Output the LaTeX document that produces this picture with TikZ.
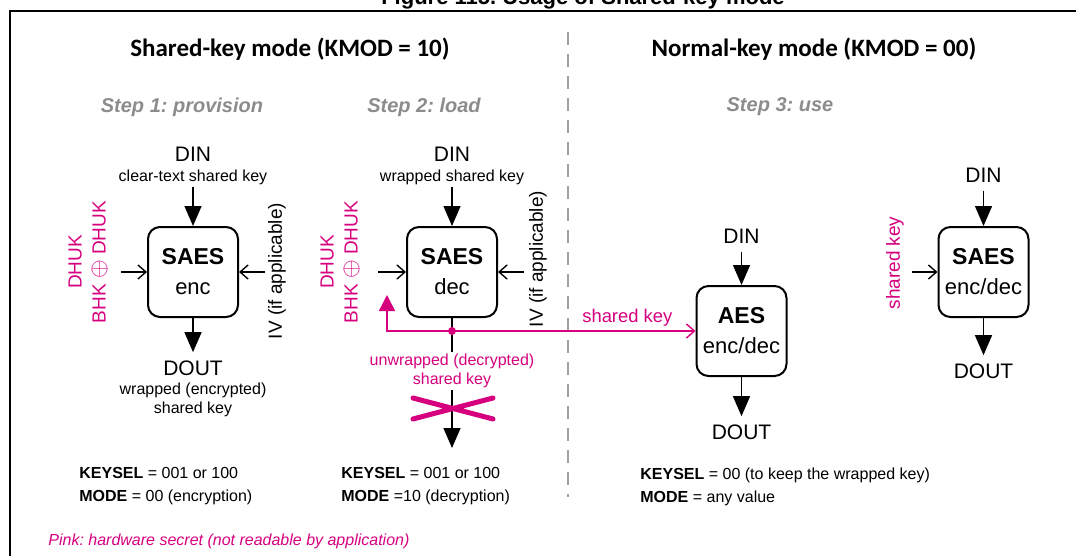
\documentclass[tikz,border=0pt]{standalone}
\usepackage{fontspec}
\setmainfont{Liberation Sans}
\newfontfamily\headfont{Carlito}
\usetikzlibrary{arrows.meta,positioning,calc}

\definecolor{stpink}{RGB}{214,0,126}
\definecolor{stepgray}{RGB}{140,140,140}
\definecolor{divgray}{RGB}{160,160,160}
\newcommand{\fsz}[2]{\fontsize{#1}{#2}\selectfont}
\newcommand{\xorsym}{{\fsz{12.5}{12}$\oplus$}}
\frenchspacing

\begin{document}
\begin{tikzpicture}[x=0.5pt, y=-0.5pt,
  blk/.style={draw, line width=1pt, rounded corners=6pt, minimum width=45pt, minimum height=45pt, align=center, inner sep=0pt, font=\fsz{11}{15}},
  io/.style={font=\fsz{10.5}{12}, inner sep=4pt},
  note/.style={font=\fsz{8}{9.5}, align=center, inner sep=1pt},
  side/.style={font=\fsz{9.5}{12}, align=center, rotate=90, inner sep=1pt},
  heading/.style={font=\headfont\bfseries\fsz{12.5}{14}},
  steplbl/.style={font=\bfseries\itshape\fsz{10}{12}, text=stepgray},
  setting/.style={font=\fsz{8}{11.5}, align=left, anchor=west, inner sep=0pt},
  bigarr/.style={-{Triangle[length=10pt,width=8.5pt]}, line width=0.7pt},
  inarr/.style={-{Straight Barb[length=4pt,width=7pt]}, line width=0.7pt},
  pinkarr/.style={-{Triangle[length=8pt,width=8pt]}, line width=0.7pt, stpink}
]
\useasboundingbox (0,0) rectangle (1076,556);

% frame and title
\draw[line width=1pt] (10,600) -- (10,11) -- (1100,11);
\node[font=\bfseries\fsz{11}{13}, anchor=base] (title) at (583,5) {Figure 115. Usage of Shared-key mode};
\draw[divgray, line width=0.6pt, dash pattern=on 6.5pt off 4.5pt] (568,32) -- (568,497);

\node[heading] (sharedhead) at (290,49) {Shared-key mode (KMOD = 10)};
\node[heading] (normalhead) at (814,49) {Normal-key mode (KMOD = 00)};
\node[steplbl] (step1) at (182,107) {Step 1: provision};
\node[steplbl] (step2) at (424,107) {Step 2: load};
\node[steplbl] (step3) at (780,107) {Step 3: use};

% step 1: provision
\node[blk] (enc) at (193,272) {{\fsz{11.5}{15}\bfseries SAES}\\enc};
\node[io] (din1) at (193,154) {DIN};
\node[note] (din1txt) at (193,177) {clear-text shared key};
\node[io] (dout1) at (193,368) {DOUT};
\node[note] (dout1txt) at (193,399.5) {wrapped (encrypted)\\shared key};
\coordinate (key1) at (121,272);
\coordinate (iv1) at (265,272);
\node[side, text=stpink] (key1txt) at (88,262) {DHUK\\BHK \xorsym{} DHUK};
\node[side] (iv1txt) at (277,271) {IV (if applicable)};
\draw[bigarr] (din1txt) -- (enc);
\draw[bigarr] (enc) -- (dout1);
\draw[inarr] (key1) -- (enc);
\draw[inarr] (iv1) -- (enc);

% step 2: load
\node[blk] (dec) at (452,272) {{\fsz{11.5}{15}\bfseries SAES}\\dec};
\node[io] (din2) at (452,154) {DIN};
\node[note] (din2txt) at (452,177) {wrapped shared key};
\coordinate (key2) at (378,272);
\coordinate (iv2) at (524,272);
\node[side, text=stpink] (key2txt) at (340,262) {DHUK\\BHK \xorsym{} DHUK};
\node[side] (iv2txt) at (538,259) {IV (if applicable)};
\draw[bigarr] (din2txt) -- (dec);
\draw[inarr] (key2) -- (dec);
\draw[inarr] (iv2) -- (dec);

\coordinate (tap) at (452,331);
\coordinate (decout) at (452,448);
\coordinate (keyback) at (387,295);
\draw[bigarr] (dec) -- (decout);
\node[note, text=stpink, fill=white] (unwrap) at (452,371) {unwrapped (decrypted)\\shared key};
\draw[stpink, line width=2.5pt, line cap=round] (413,398) -- (493,419) (413,419) -- (493,398);

% step 3: use
\node[blk] (aes) at (741.5,331) {{\fsz{11.5}{15}\bfseries AES}\\enc/dec};
\node[io] (din3) at (741.5,236) {DIN};
\node[io] (dout3) at (741.5,432) {DOUT};
\draw[bigarr] (din3) -- (aes);
\draw[bigarr] (aes) -- (dout3);

\draw[pinkarr] (tap) -| (keyback);
\draw[inarr, stpink] (tap) -- node[pos=0.72, above, font=\fsz{9.2}{11}, inner sep=2pt] (sharedlbl) {shared key} (aes);
\fill[stpink] (tap) circle (2pt);

\node[blk] (saes) at (983.5,272) {{\fsz{11.5}{15}\bfseries SAES}\\enc/dec};
\node[io] (din4) at (983.5,175) {DIN};
\node[io] (dout4) at (983.5,371) {DOUT};
\coordinate (key4) at (912,272);
\node[side, text=stpink] (key4txt) at (895,263) {shared key};
\draw[bigarr] (din4) -- (saes);
\draw[bigarr] (saes) -- (dout4);
\draw[inarr] (key4) -- (saes);

% register settings
\node[setting] (set1) at (79,486.5) {\textbf{KEYSEL} = 001 or 100\\\textbf{MODE} = 00 (encryption)};
\node[setting] (set2) at (341,486.5) {\textbf{KEYSEL} = 001 or 100\\\textbf{MODE} =10 (decryption)};
\node[setting] (set3) at (640,486.5) {\textbf{KEYSEL} = 00 (to keep the wrapped key)\\\textbf{MODE} = any value};
\node[anchor=west, inner sep=0pt, font=\itshape\fsz{8}{10}, text=stpink] (pinknote) at (48,541) {Pink: hardware secret (not readable by application)};

\end{tikzpicture}
\end{document}
